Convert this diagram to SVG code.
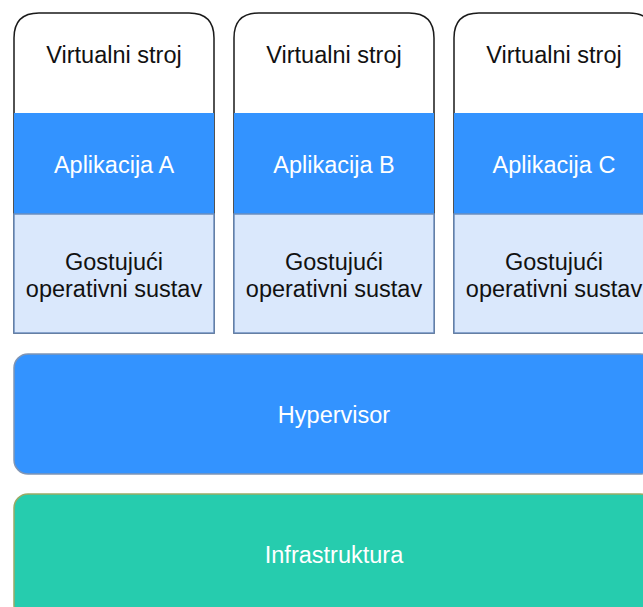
<svg xmlns="http://www.w3.org/2000/svg" width="643" height="607" viewBox="0 0 643 607">
<style>
.vm{fill:#ffffff;stroke:#1a1a1a;stroke-width:1.5}
.app{fill:#3393ff;stroke:none}
.os{fill:#dae8fc;stroke:#6c8ebf;stroke-width:1.5}
.t{font-family:"Liberation Sans",Arial,sans-serif;font-size:23.5px;text-anchor:middle}
.dark{fill:#111111}
.w{fill:#ffffff}
</style>
<g id="vmA">
<path class="vm" d="M14,333 V38 Q14,13 39,13 H189 Q214,13 214,38 V333 Z"/>
<rect class="app" x="14" y="113" width="200" height="101"/>
<rect class="os" x="14" y="214" width="200" height="119"/>
<text class="t dark" x="114" y="63">Virtualni stroj</text>
<text class="t w" x="114" y="173">Aplikacija A</text>
<text class="t dark" x="114" y="270">Gostujući</text>
<text class="t dark" x="114" y="297">operativni sustav</text>
</g>
<g id="vmB">
<path class="vm" d="M234,333 V38 Q234,13 259,13 H409 Q434,13 434,38 V333 Z"/>
<rect class="app" x="234" y="113" width="200" height="101"/>
<rect class="os" x="234" y="214" width="200" height="119"/>
<text class="t dark" x="334" y="63">Virtualni stroj</text>
<text class="t w" x="334" y="173">Aplikacija B</text>
<text class="t dark" x="334" y="270">Gostujući</text>
<text class="t dark" x="334" y="297">operativni sustav</text>
</g>
<g id="vmC">
<path class="vm" d="M454,333 V38 Q454,13 479,13 H629 Q654,13 654,38 V333 Z"/>
<rect class="app" x="454" y="113" width="200" height="101"/>
<rect class="os" x="454" y="214" width="200" height="119"/>
<text class="t dark" x="554" y="63">Virtualni stroj</text>
<text class="t w" x="554" y="173">Aplikacija C</text>
<text class="t dark" x="554" y="270">Gostujući</text>
<text class="t dark" x="554" y="297">operativni sustav</text>
</g>
<g id="hypervisor">
<rect x="14" y="354" width="640" height="120" rx="14" fill="#3393ff" stroke="#7f95b5" stroke-width="1.5"/>
<text class="t w" x="334" y="423">Hypervisor</text>
</g>
<g id="infrastruktura">
<rect x="14" y="494" width="640" height="125" rx="14" fill="#26ccae" stroke="#9aaa66" stroke-width="1.5"/>
<text class="t w" x="334" y="563">Infrastruktura</text>
</g>
<g id="connectors"></g>
</svg>
